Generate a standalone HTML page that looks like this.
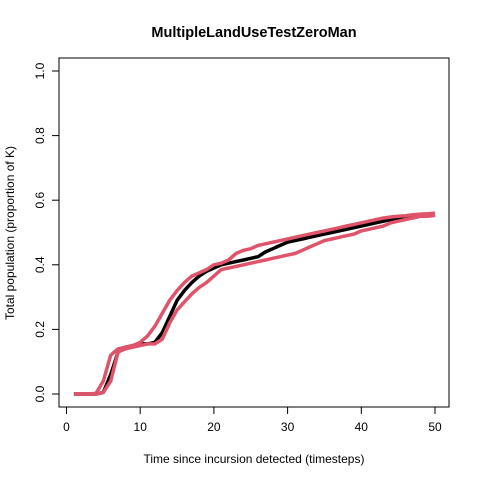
<!DOCTYPE html>
<html><head><meta charset="utf-8"><style>
html,body{margin:0;padding:0;background:#fff}
svg{display:block;font-family:"Liberation Sans",Arial,sans-serif}
</style></head><body>
<svg id="chart" width="480" height="480" viewBox="0 0 480 480">
<rect width="480" height="480" fill="#fff"/>
<text x="254" y="37" text-anchor="middle" font-size="14.5" font-weight="bold">MultipleLandUseTestZeroMan</text>
<text x="254" y="463" text-anchor="middle" font-size="12">Time since incursion detected (timesteps)</text>
<text transform="translate(14,233) rotate(-90)" text-anchor="middle" font-size="12">Total population (proportion of K)</text>
<rect x="59" y="58" width="390" height="349" fill="none" stroke="#000"/>
<g id="xaxis"></g>
<g id="yaxis"></g>
<g id="series"></g>
</svg>
<script>
const xTicks=[0,10,20,30,40,50];
const yTicks=[0,0.2,0.4,0.6,0.8,1.0];
const yTickLabels=["0.0","0.2","0.4","0.6","0.8","1.0"];
const timesteps=Array.from({length:50},(_,i)=>i+1);
const meanPop=[0,0,0,0,0.005,0.06,0.13,0.145,0.15,0.155,0.155,0.16,0.19,0.24,0.29,0.32,0.345,0.365,0.38,0.39,0.40,0.405,0.41,0.415,0.42,0.425,0.44,0.45,0.46,0.47,0.475,0.48,0.485,0.49,0.495,0.50,0.505,0.51,0.515,0.52,0.525,0.53,0.535,0.54,0.545,0.548,0.55,0.552,0.553,0.555];
const upperPop=[0,0,0,0.002,0.04,0.12,0.14,0.145,0.15,0.16,0.18,0.21,0.25,0.29,0.32,0.345,0.365,0.375,0.385,0.40,0.405,0.415,0.435,0.445,0.45,0.46,0.465,0.47,0.475,0.48,0.485,0.49,0.495,0.50,0.505,0.51,0.515,0.52,0.525,0.53,0.535,0.54,0.545,0.548,0.55,0.552,0.555,0.557,0.558,0.56];
const lowerPop=[0,0,0,0,0.005,0.04,0.13,0.14,0.145,0.15,0.155,0.155,0.17,0.22,0.26,0.285,0.31,0.33,0.345,0.365,0.385,0.39,0.395,0.40,0.405,0.41,0.415,0.42,0.425,0.43,0.435,0.445,0.455,0.465,0.475,0.48,0.485,0.49,0.495,0.505,0.51,0.515,0.52,0.53,0.535,0.54,0.545,0.55,0.55,0.553];
const NS="http://www.w3.org/2000/svg";
const xs=v=>66.5+v*7.37;
const ys=v=>394-v*323;
function mk(tag,attrs,parent){const e=document.createElementNS(NS,tag);for(const k in attrs)e.setAttribute(k,attrs[k]);parent.appendChild(e);return e;}
const xa=document.getElementById('xaxis'),ya=document.getElementById('yaxis'),sg=document.getElementById('series');
let l=mk('line',{x1:xs(0),x2:xs(50),y1:407,y2:407,stroke:'#000'},xa);


xTicks.forEach(t=>{
 const tk=mk('line',{x1:xs(t),x2:xs(t),y1:407,y2:414,stroke:'#000'},xa);
 
 
 const tx=mk('text',{x:xs(t),y:431,'text-anchor':'middle','font-size':12},xa);
 tx.textContent=t;
 
 
});
l=mk('line',{x1:59,x2:59,y1:ys(0),y2:ys(1),stroke:'#000'},ya);


yTicks.forEach((t,i)=>{
 const tk=mk('line',{x1:52,x2:59,y1:ys(t),y2:ys(t),stroke:'#000'},ya);
 
 
 const tx=mk('text',{x:0,y:0,'text-anchor':'middle','font-size':12,transform:`translate(44,${ys(t)}) rotate(-90)`},ya);
 tx.textContent=yTickLabels[i];
 
 
});
function line(arr,color,name){
 const d=arr.map((v,i)=>(i?'L':'M')+xs(timesteps[i]).toFixed(1)+','+ys(v).toFixed(1)).join('');
 const p=mk('path',{d:d,fill:'none',stroke:color,'stroke-width':3.5,'stroke-linejoin':'round'},sg);
 
 
}
line(meanPop,'#000','mean-line');
line(upperPop,'#DF536B','upper-bound-line');
line(lowerPop,'#DF536B','lower-bound-line');
</script>
</body></html>
